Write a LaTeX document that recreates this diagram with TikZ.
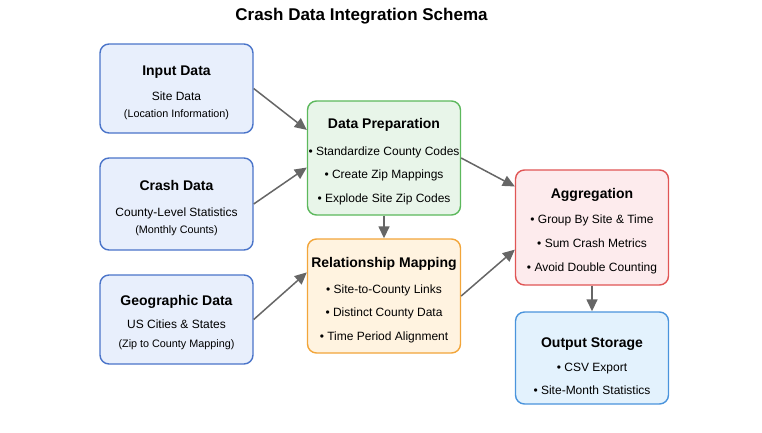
\documentclass[tikz,border=0pt]{standalone}
\usepackage{fontspec}
\setmainfont{Liberation Sans}
\usetikzlibrary{arrows.meta,positioning}
\definecolor{blueline}{HTML}{4A74C9}
\definecolor{bluefill}{HTML}{E8EFFC}
\definecolor{greenline}{HTML}{5CB85C}
\definecolor{greenfill}{HTML}{E8F5E9}
\definecolor{orangeline}{HTML}{F2A53A}
\definecolor{orangefill}{HTML}{FFF3E0}
\definecolor{redline}{HTML}{E05555}
\definecolor{redfill}{HTML}{FDEBED}
\definecolor{skyline}{HTML}{4A94DC}
\definecolor{skyfill}{HTML}{E3F2FD}
\definecolor{arrowgray}{HTML}{666666}
\newcommand{\boxtitle}[1]{{\fontsize{14}{16}\selectfont\bfseries #1}}
\newcommand{\smalltxt}[1]{{\fontsize{10.8}{12}\selectfont #1}}

\tikzset{
  box/.style={draw, rounded corners=9pt, line width=1.4pt, minimum width=153pt, minimum height=#1},
  txt/.style={align=center, font=\fontsize{12}{14}\selectfont},
  flow/.style={draw=arrowgray, line width=1.5pt, -{Triangle[length=12pt,width=11pt]}}
}

\begin{document}
\begin{tikzpicture}[x=1pt, y=-1pt]
        \useasboundingbox (0,0) rectangle (762,432);

        \node[font=\fontsize{17}{20}\selectfont\bfseries] (title) at (361.5,16) {Crash Data Integration Schema};

        % sources
        \node[box=89pt, draw=blueline, fill=bluefill] (input) at (176.5,88.5) {};
        \node[txt] (inputtxt) at (176.5,93) {\boxtitle{Input Data}\\[11pt] Site Data\\[3pt] \smalltxt{(Location Information)}};

        \node[box=92pt, draw=blueline, fill=bluefill] (crash) at (176.5,204) {};
        \node[txt] (crashtxt) at (176.5,208.5) {\boxtitle{Crash Data}\\[12pt] County-Level Statistics\\[3pt] \smalltxt{(Monthly Counts)}};

        \node[box=89pt, draw=blueline, fill=bluefill] (geo) at (176.5,319.5) {};
        \node[txt] (geotxt) at (176.5,323) {\boxtitle{Geographic Data}\\[9pt] US Cities \& States\\[5pt] \smalltxt{(Zip to County Mapping)}};

        % processing
        \node[box=114pt, draw=greenline, fill=greenfill] (prep) at (384,158) {};
        \node[txt] (preptxt) at (384,161.5) {\boxtitle{Data Preparation}\\[13pt] • Standardize County Codes\\[9pt] • Create Zip Mappings\\[10pt] • Explode Site Zip Codes};

        \node[box=114pt, draw=orangeline, fill=orangefill] (rel) at (384,296) {};
        \node[txt] (reltxt) at (384,300) {\boxtitle{Relationship Mapping}\\[12pt] • Site-to-County Links\\[9pt] • Distinct County Data\\[10pt] • Time Period Alignment};

        \node[box=115pt, draw=redline, fill=redfill] (agg) at (592,227.5) {};
        \node[txt] (aggtxt) at (592,231) {\boxtitle{Aggregation}\\[11pt] • Group By Site \& Time\\[10pt] • Sum Crash Metrics\\[10pt] • Avoid Double Counting};

        \node[box=92pt, draw=skyline, fill=skyfill] (out) at (592,358) {};
        \node[txt] (outtxt) at (592,366.5) {\boxtitle{Output Storage}\\[10pt] • CSV Export\\[9pt] • Site-Month Statistics};

        % connections
        \draw[flow] (input.east) -- (prep.160);
        \draw[flow] (crash.east) -- (prep.187.4);
        \draw[flow] (geo.east) -- (rel.163.4);
        \draw[flow] (prep.east) -- (agg.152.8);
        \draw[flow] (rel.east) -- (agg.196.3);
        \draw[flow] (prep.south) -- (rel.north);
        \draw[flow] (agg.south) -- (out.north);

    \end{tikzpicture}
\end{document}
